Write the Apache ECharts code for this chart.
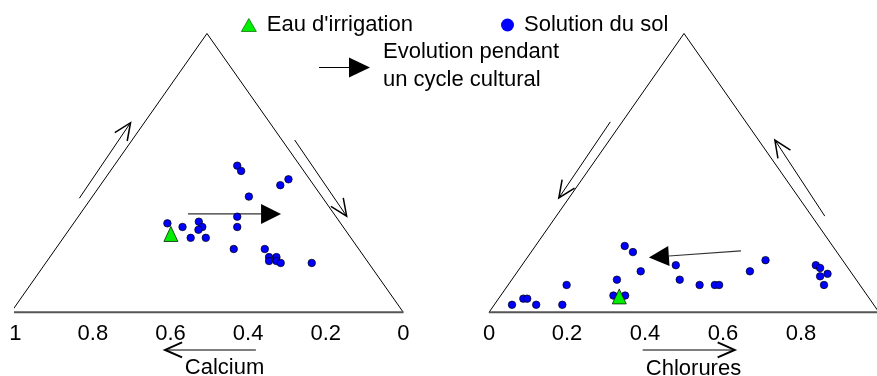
<!DOCTYPE html>
<html>
<head>
<meta charset="utf-8">
<script src="https://cdn.jsdelivr.net/npm/echarts@6/dist/echarts.min.js"></script>
<style>
html,body{margin:0;padding:0;background:#fff;}
#chart{width:877px;height:376px;}
</style>
</head>
<body>
<div id="chart"></div>
<script>
// ---- Data ----
// Left diagram: [Calcium fraction, height fraction in triangle]
const leftSoil = [
  [0.428,0.526],[0.418,0.507],[0.296,0.477],[0.317,0.456],[0.398,0.415],
  [0.428,0.343],[0.428,0.306],[0.608,0.319],[0.569,0.306],[0.527,0.325],
  [0.518,0.306],[0.528,0.296],[0.548,0.267],[0.509,0.267],[0.437,0.227],
  [0.357,0.227],[0.346,0.198],[0.327,0.198],[0.346,0.184],[0.327,0.184],
  [0.316,0.177],[0.236,0.177]
];
const leftIrrigation = [[0.599,0.281]];
// Right diagram: [Chlorures fraction, height fraction in triangle]
const rightSoil = [
  [0.348,0.238],[0.369,0.216],[0.389,0.147],[0.328,0.117],[0.199,0.098],
  [0.088,0.049],[0.098,0.049],[0.059,0.027],[0.121,0.027],[0.188,0.027],
  [0.319,0.060],[0.349,0.060],[0.479,0.169],[0.489,0.117],[0.540,0.098],
  [0.579,0.098],[0.590,0.098],[0.669,0.147],[0.709,0.187],[0.838,0.169],
  [0.849,0.159],[0.849,0.129],[0.868,0.138],[0.859,0.098]
];
const rightIrrigation = [[0.334,0.057]];

const leftTickLabels = ['0','0.2','0.4','0.6','0.8','1'];
const rightTickLabels = ['0','0.2','0.4','0.6','0.8'];

const leftTriangle = [[1.011,0],[0.506,1],[0,0]];
const rightTriangle = [[0,0],[0.5,1],[1.0,0]];

// Arrows [x1, y1, x2(tip), y2(tip)] in diagram units
const leftSideArrows = [[0.835,0.409,0.703,0.680],[0.280,0.618,0.146,0.345]];
const leftTrendArrow = [[0.555,0.353,0.315,0.353]];
const leftAxisArrow = [[0.380,-0.135,0.614,-0.135]];
const rightSideArrows = [[0.311,0.683,0.179,0.410],[0.861,0.345,0.733,0.618]];
const rightTrendArrow = [[0.646,0.220,0.410,0.197]];
const rightAxisArrow = [[0.394,-0.135,0.630,-0.135]];

const FONT = '"Liberation Sans", Arial, sans-serif';
const NAME_IRR = "Eau d'irrigation";
const NAME_SOL = 'Solution du sol';

function arrowRenderer(head, shaftColor, shaftWidth, headWidth) {
  return function (params, api) {
    const a = api.coord([api.value(0), api.value(1)]);
    const b = api.coord([api.value(2), api.value(3)]);
    const dx = b[0]-a[0], dy = b[1]-a[1];
    const len = Math.hypot(dx, dy);
    const ux = dx/len, uy = dy/len, nx = -uy, ny = ux;
    const children = [];
    if (head === 'filled') {
      const L = 20, W = 10;
      const bx = b[0]-ux*L, by = b[1]-uy*L;
      children.push({type:'line', shape:{x1:a[0],y1:a[1],x2:bx,y2:by}, style:{stroke:shaftColor, lineWidth:shaftWidth}});
      children.push({type:'polygon', shape:{points:[[b[0],b[1]],[bx+nx*W,by+ny*W],[bx-nx*W,by-ny*W]]}, style:{fill:'#000'}});
    } else {
      const L = 17, W = 7.5;
      const bx = b[0]-ux*L, by = b[1]-uy*L;
      children.push({type:'line', shape:{x1:a[0],y1:a[1],x2:b[0],y2:b[1]}, style:{stroke:shaftColor, lineWidth:shaftWidth}});
      children.push({type:'polyline', shape:{points:[[bx+nx*W,by+ny*W],[b[0],b[1]],[bx-nx*W,by-ny*W]]}, style:{stroke:'#000', lineWidth:headWidth, fill:null}});
    }
    return {type:'group', children};
  };
}

function arrowSeries(gi, data, head, color, w, hw) {
  return {type:'custom', xAxisIndex:gi, yAxisIndex:gi, data, clip:false, silent:true,
    renderItem: arrowRenderer(head, color, w, hw), z:3};
}

function triangleSeries(gi, tri) {
  return [
    {type:'line', xAxisIndex:gi, yAxisIndex:gi, data:tri, symbol:'none', clip:false, silent:true,
      lineStyle:{color:'#000', width:1}, z:2},
    {type:'line', xAxisIndex:gi, yAxisIndex:gi, data:[tri[0], tri[2]], symbol:'none', clip:false, silent:true,
      lineStyle:{color:'#555', width:2}, z:2}
  ];
}

function soilSeries(gi, data) {
  return {type:'scatter', name:NAME_SOL, xAxisIndex:gi, yAxisIndex:gi, data, symbol:'circle', symbolSize:7.5,
    itemStyle:{color:'#0000ff', borderColor:'#000', borderWidth:0.7, opacity:1}, z:5, clip:false};
}
function irrSeries(gi, data) {
  return {type:'scatter', name:NAME_IRR, xAxisIndex:gi, yAxisIndex:gi, data, symbol:'triangle', symbolSize:[14,15],
    itemStyle:{color:'#00ee00', borderColor:'#000', borderWidth:0.7, opacity:1}, z:6, clip:false};
}

function xAxisFor(gi, inverse, labels) {
  return {
    type:'value', gridIndex:gi, min:0, max:1, interval:0.2, inverse,
    axisLine:{show:false}, axisTick:{show:false}, splitLine:{show:false},
    axisLabel:{
      margin:11, fontSize:22, fontFamily:FONT, color:'#000',
      formatter: v => { const i = Math.round(v/0.2); return labels[i] !== undefined ? labels[i] : ''; }
    }
  };
}
function yAxisFor(gi) {
  return {type:'value', gridIndex:gi, min:0, max:1, show:false, splitLine:{show:false}};
}

const chart = echarts.init(document.getElementById('chart'), null, {renderer:'canvas'});
chart.setOption({
  animation:false,
  backgroundColor:'#fff',
  grid:[
    {left:15.3, top:33.5, width:388, height:278.8, containLabel:false, outerBoundsMode:'none'},
    {left:489, top:33.5, width:390, height:278.8, containLabel:false, outerBoundsMode:'none'}
  ],
  xAxis:[xAxisFor(0, true, leftTickLabels), xAxisFor(1, false, rightTickLabels)],
  yAxis:[yAxisFor(0), yAxisFor(1)],
  legend:[
    {data:[NAME_IRR], left:241, top:14, itemWidth:15, itemHeight:13, selectedMode:false, padding:0,
      itemStyle:{borderColor:'#060', borderWidth:0.7},
      textStyle:{fontSize:22, fontFamily:FONT, color:'#000', padding:[0,0,0,5.5]}},
    {data:[NAME_SOL], left:501, top:14, itemWidth:13, itemHeight:13, selectedMode:false, padding:0,
      itemStyle:{borderWidth:0},
      textStyle:{fontSize:22, fontFamily:FONT, color:'#000', padding:[0,0,0,5]}}
  ],
  graphic:[
    {type:'line', shape:{x1:319, y1:67.5, x2:350, y2:67.5}, style:{stroke:'#000', lineWidth:1}},
    {type:'polygon', shape:{points:[[349,57.5],[370,67.5],[349,77.5]]}, style:{fill:'#000'}},
    {type:'text', style:{text:'Evolution pendant', x:383, y:51.5, font:'22px '+FONT, fill:'#000',
      textAlign:'left', textVerticalAlign:'middle', align:'left', verticalAlign:'middle'}},
    {type:'text', style:{text:'un cycle cultural', x:383, y:80, font:'22px '+FONT, fill:'#000',
      textAlign:'left', textVerticalAlign:'middle', align:'left', verticalAlign:'middle'}},
    {type:'text', style:{text:'Calcium', x:224.5, y:368, font:'22px '+FONT, fill:'#000',
      textAlign:'center', textVerticalAlign:'middle', align:'center', verticalAlign:'middle'}},
    {type:'text', style:{text:'Chlorures', x:693.5, y:368.5, font:'22px '+FONT, fill:'#000',
      textAlign:'center', textVerticalAlign:'middle', align:'center', verticalAlign:'middle'}}
  ],
  series:[
    ...triangleSeries(0, leftTriangle),
    ...triangleSeries(1, rightTriangle),
    arrowSeries(0, leftSideArrows, 'chevron', '#000', 1, 1.5),
    arrowSeries(0, leftTrendArrow, 'filled', '#333', 1.2, 1),
    arrowSeries(0, leftAxisArrow, 'chevron', '#555', 1.5, 2),
    arrowSeries(1, rightSideArrows, 'chevron', '#000', 1, 1.5),
    arrowSeries(1, rightTrendArrow, 'filled', '#333', 1.2, 1),
    arrowSeries(1, rightAxisArrow, 'chevron', '#555', 1.5, 2),
    soilSeries(0, leftSoil),
    irrSeries(0, leftIrrigation),
    soilSeries(1, rightSoil),
    irrSeries(1, rightIrrigation)
  ]
});
</script>
</body>
</html>
